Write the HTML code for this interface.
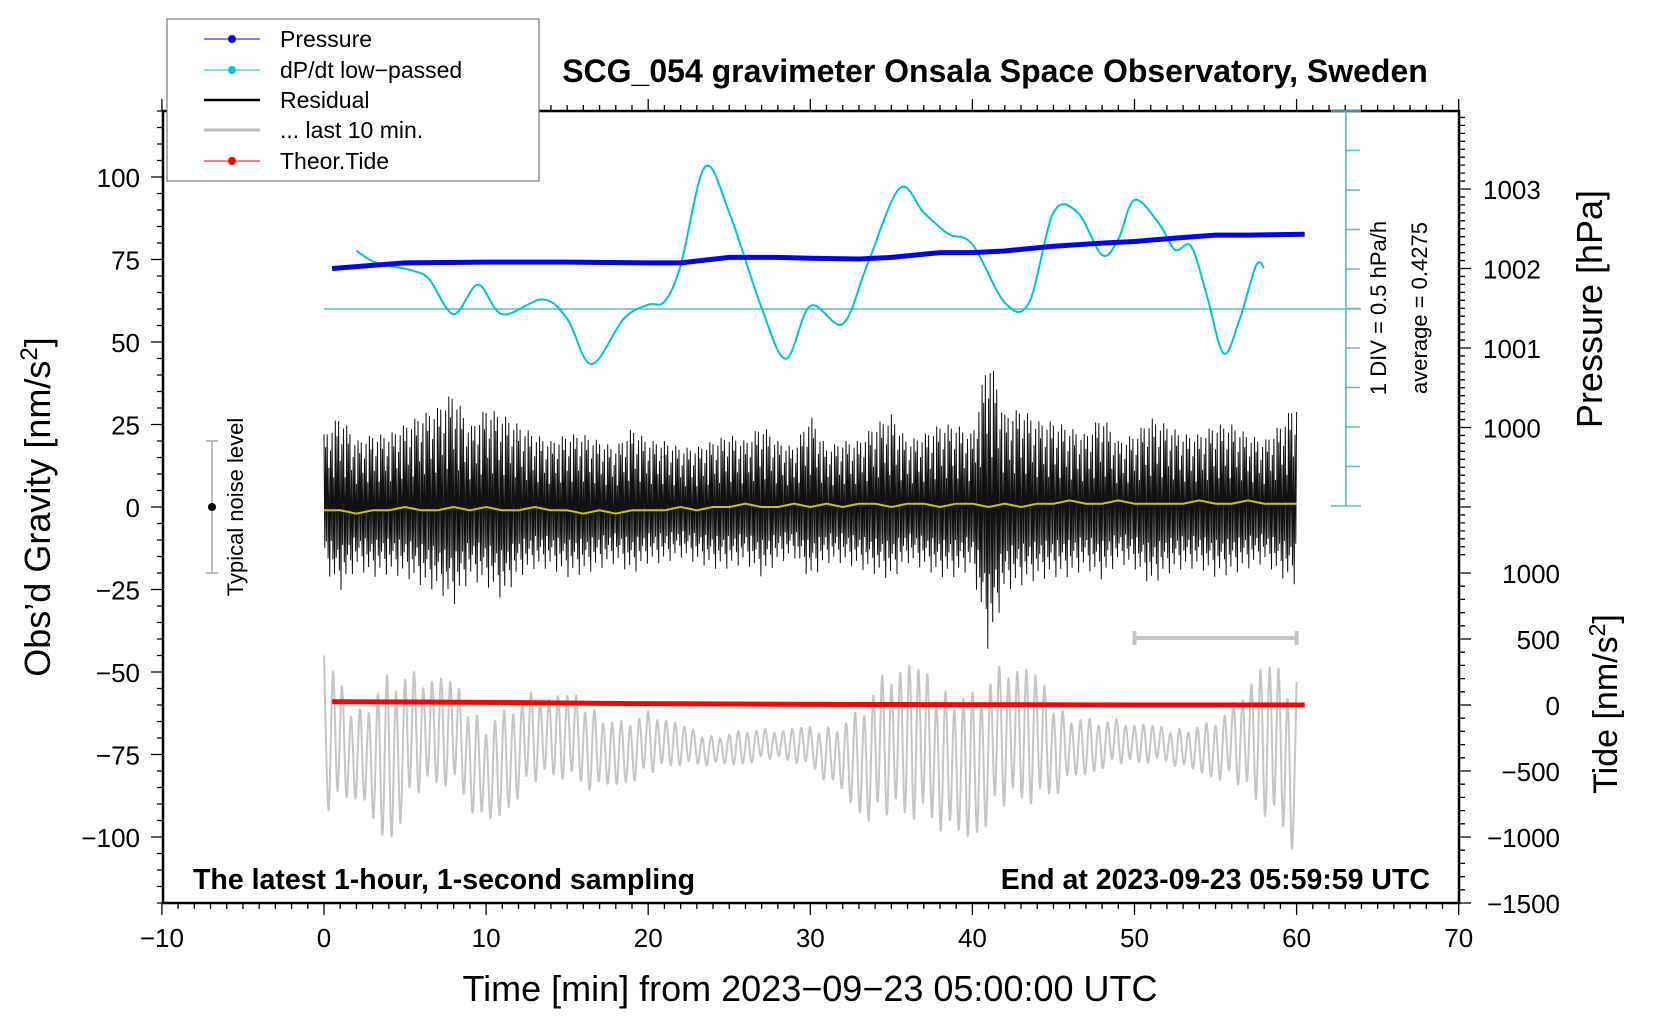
<!DOCTYPE html>
<html><head><meta charset="utf-8"><style>
html,body{margin:0;padding:0;background:#fff}
svg{display:block;font-family:"Liberation Sans",Arial,sans-serif}
</style></head><body>
<svg id="chart" width="1660" height="1020" viewBox="0 0 1660 1020" xmlns="http://www.w3.org/2000/svg">
<rect x="0" y="0" width="1660" height="1020" fill="#fff"/>
<g id="axes"></g>
<g id="series"></g>
<text x="995" y="82" text-anchor="middle" font-size="32" font-weight="bold">SCG_054 gravimeter Onsala Space Observatory, Sweden</text>
<text x="193" y="889" font-size="28.5" font-weight="bold">The latest 1-hour, 1-second sampling</text>
<text x="1430" y="889" text-anchor="end" font-size="28.5" font-weight="bold">End at 2023-09-23 05:59:59 UTC</text>
<text x="810" y="1001" text-anchor="middle" font-size="36">Time [min] from 2023−09−23 05:00:00 UTC</text>
<text transform="translate(50,507) rotate(-90)" text-anchor="middle" font-size="36">Obs’d Gravity [nm/s<tspan font-size="24" dy="-13">2</tspan><tspan dy="13">]</tspan></text>
<text transform="translate(1602,309) rotate(-90)" text-anchor="middle" font-size="36">Pressure [hPa]</text>
<text transform="translate(1617,704) rotate(-90)" text-anchor="middle" font-size="34">Tide [nm/s<tspan font-size="23" dy="-12">2</tspan><tspan dy="12">]</tspan></text>
<text transform="translate(1386,308) rotate(-90)" text-anchor="middle" font-size="22">1 DIV = 0.5 hPa/h</text>
<text transform="translate(1427,308) rotate(-90)" text-anchor="middle" font-size="22">average = 0.4275</text>
<g>
<line x1="212" y1="441" x2="212" y2="573" stroke="#bbb" stroke-width="2"/>
<line x1="206" y1="441" x2="218" y2="441" stroke="#bbb" stroke-width="2"/>
<line x1="206" y1="573" x2="218" y2="573" stroke="#bbb" stroke-width="2"/>
<circle cx="212" cy="507" r="4" fill="#000"/>
<text transform="translate(243,507) rotate(-90)" text-anchor="middle" font-size="22">Typical noise level</text>
</g>
<g>
<rect x="167" y="19" width="372" height="162" fill="#fff" stroke="#777" stroke-width="1.2"/>
<g><line x1="204" y1="39" x2="260" y2="39" stroke="#00f" stroke-width="1"/><circle cx="232" cy="39" r="4" fill="#00f"/><text x="280" y="47" font-size="23">Pressure</text></g>
<g><line x1="204" y1="70" x2="260" y2="70" stroke="#0cc" stroke-width="1"/><circle cx="232" cy="70" r="4" fill="#0cc"/><text x="280" y="78" font-size="23">dP/dt low−passed</text></g>
<g><line x1="204" y1="100" x2="260" y2="100" stroke="#000" stroke-width="2.5"/><text x="280" y="108" font-size="23">Residual</text></g>
<g><line x1="204" y1="130" x2="260" y2="130" stroke="#bbb" stroke-width="3"/><text x="280" y="138" font-size="23">... last 10 min.</text></g>
<g><line x1="204" y1="161" x2="260" y2="161" stroke="#f00" stroke-width="1"/><circle cx="232" cy="161" r="4" fill="#f00"/><text x="280" y="169" font-size="23">Theor.Tide</text></g>
</g>
</svg>
<script>
// ---- data ----
const pressMin = [0.5,5,10,15,20,22,25,28,30,33,35,38,40,42,45,48,50,53,55,57,60.5];
const pressVal = [1002.00,1002.07,1002.08,1002.08,1002.07,1002.07,1002.14,1002.14,1002.13,1002.12,1002.14,1002.20,1002.20,1002.22,1002.28,1002.32,1002.34,1002.39,1002.42,1002.42,1002.43];
const dpdtMin = [2,3,4,5.5,6.5,8,9.5,11,13.5,15,16.5,18.5,20,21,22,23.5,25,27,28.5,30,32,33.5,35.5,37,38.5,40,42,43.5,45,46.5,48,49,50,51.5,52.5,53.5,54.5,55.5,56.5,57.5,58];
const dpdtVal = [0.737,0.603,0.55,0.483,0.375,-0.067,0.308,-0.067,0.121,-0.121,-0.697,-0.121,0.054,0.094,0.55,1.796,1.22,0.013,-0.63,0.04,-0.188,0.55,1.528,1.22,0.952,0.818,0.08,0.08,1.22,1.22,0.684,0.885,1.381,1.086,0.751,0.791,0.147,-0.563,-0.121,0.55,0.523];
const residHi = [22,28,20,22,22,25,28,30,35,24,30,28,25,22,20,22,22,20,18,24,20,20,18,18,20,22,20,25,20,18,28,18,20,20,25,28,20,22,25,25,22,47,28,30,26,26,24,22,28,20,22,27,25,22,22,25,25,22,20,25,32];
const residLo = [-22,-30,-22,-25,-24,-25,-28,-30,-35,-26,-28,-33,-25,-22,-22,-25,-24,-22,-20,-24,-20,-20,-18,-20,-22,-22,-20,-25,-20,-18,-26,-20,-20,-22,-24,-26,-20,-22,-25,-25,-22,-52,-30,-28,-26,-25,-25,-22,-26,-20,-22,-28,-24,-22,-22,-25,-24,-22,-20,-25,-28];
const smoothVal = [-1,-1,-2,-1,-1,0,-1,-1,0,-1,0,-1,-1,0,-1,-1,-2,-1,-2,-1,-1,-1,0,-1,0,0,1,0,0,1,0,1,0,1,1,0,1,1,0,1,1,0,1,0,1,1,2,1,1,2,1,1,1,1,2,1,1,2,1,1,1];
const grayMin = [0,2,4,6,8,10,12,14,16,18,20,22,24,26,28,30,32,34,36,38,40,42,44,46,48,50,52,54,56,58,60];
const grayHi = [-45,-58,-43,-52,-52,-60,-55,-58,-55,-62,-62,-66,-68,-66,-68,-66,-62,-52,-48,-48,-50,-48,-50,-60,-63,-66,-66,-64,-60,-48,-44];
const grayLo = [-100,-88,-102,-92,-88,-96,-90,-86,-86,-84,-84,-80,-78,-78,-78,-80,-86,-100,-102,-98,-100,-98,-95,-82,-80,-80,-78,-80,-86,-100,-104];
const tideMin = [0.5,10,20,30,40,50,60.5];
const tideVal = [25,20,10,5,2,0,0];
const xTicks = [-10,0,10,20,30,40,50,60,70];
const gravTicks = [-100,-75,-50,-25,0,25,50,75,100];
const pressTicks = [1000,1001,1002,1003];
const tideTicks = [-1500,-1000,-500,0,500,1000];

// ---- scales ----
const NS='http://www.w3.org/2000/svg';
const L=163,R=1459,T=111,B=903;
const X=m=>324+(m)*16.21;
const YG=v=>507-v*3.3;
const YP=p=>189-(p-1003)*79.5;
const YT=t=>705-t*0.132;
const YD=v=>309-v*79;
const axes=document.getElementById('axes'), ser=document.getElementById('series');
function mk(tag,attrs,parent){const e=document.createElementNS(NS,tag);for(const k in attrs)e.setAttribute(k,attrs[k]);(parent||axes).appendChild(e);return e;}
function interp(xs,ys,x){if(x<=xs[0])return ys[0];for(let i=1;i<xs.length;i++){if(x<=xs[i]){const f=(x-xs[i-1])/(xs[i]-xs[i-1]);return ys[i-1]+f*(ys[i]-ys[i-1]);}}return ys[ys.length-1];}
function smooth(pts){let d='M'+pts[0][0]+','+pts[0][1];for(let i=0;i<pts.length-1;i++){const p0=pts[i-1]||pts[i],p1=pts[i],p2=pts[i+1],p3=pts[i+2]||p2;const c1=[p1[0]+(p2[0]-p0[0])/6,p1[1]+(p2[1]-p0[1])/6],c2=[p2[0]-(p3[0]-p1[0])/6,p2[1]-(p3[1]-p1[1])/6];d+=`C${c1[0].toFixed(1)},${c1[1].toFixed(1)} ${c2[0].toFixed(1)},${c2[1].toFixed(1)} ${p2[0].toFixed(1)},${p2[1].toFixed(1)}`;}return d;}

// frame
let tk='';
for(let m=-10;m<=70;m++){const x=X(m);const major=m%10===0;tk+=`M${x},${B}v${major?12:6}M${x},${T}v${major?-12:-6}`;}
for(let v=-120;v<=120;v+=5){const y=YG(v);tk+=`M${L},${y}h${v%25===0?-12:-6}`;}
for(let p=998.4;p<=1003.95;p+=0.1){const y=YP(p);const major=Math.abs(p-Math.round(p))<0.01;tk+=`M${R},${y}h${major?12:6}`;}
for(let t=-1500;t<=1000;t+=100){const y=YT(t);tk+=`M${R},${y}h${t%500===0?12:6}`;}
const tickPath=mk('path',{d:tk,stroke:'#000','stroke-width':1.3,fill:'none'});


const frame=mk('rect',{x:L,y:T,width:R-L,height:B-T,fill:'none',stroke:'#000','stroke-width':2.5});


xTicks.forEach(m=>{const t=mk('text',{x:X(m),y:947,'text-anchor':'middle','font-size':26});t.textContent=String(m).replace('-','−');

});
gravTicks.forEach(v=>{const t=mk('text',{x:140,y:YG(v)+10,'text-anchor':'end','font-size':26});t.textContent=String(v).replace('-','−');

});
pressTicks.forEach(v=>{const t=mk('text',{x:1483,y:YP(v)+10,'font-size':26});t.textContent=v;

});
tideTicks.forEach(v=>{const t=mk('text',{x:1560,y:YT(v)+10,'text-anchor':'end','font-size':26});t.textContent=String(v).replace('-','−');

});

// dP/dt scale bar
let sb=`M1346,${T}V506M1331,${T}h30M1331,506h30M${X(0)},309H1361`;
for(let i=1;i<10;i++){const y=T+i*39.5;sb+=`M1346,${y}h14`;}
const sbar=mk('path',{d:sb,stroke:'#5bbfbf','stroke-width':1.6,fill:'none'},ser);



// gray last 10 min
const pat=[1,0.75,0.95,0.6,0.9,0.8,0.55,1,0.7,0.85,0.5,0.95,0.65];
let k=0;const gpts=[];
for(let m=0;m<=60.001;m+=1/3.6){const hi=interp(grayMin,grayHi,m),lo=interp(grayMin,grayLo,m);const c=(hi+lo)/2,a=(hi-lo)/2;const s=(k%2===0?1:-1)*pat[k%pat.length];gpts.push([+X(m).toFixed(1),+YG(c+a*s).toFixed(1)]);k++;}
const gp=mk('path',{d:smooth(gpts),stroke:'#c4c4c4','stroke-width':2,fill:'none'},ser);


const gbar=mk('path',{d:`M${X(50)},638H${X(60)}M${X(50)},631v14M${X(60)},631v14`,stroke:'#c4c4c4','stroke-width':4,fill:'none'},ser);



// residual
let rd='';k=0;const pat2=[1,0.55,0.8,0.45,0.95,0.65,0.5,0.85,0.7,0.4,0.9,0.6,0.35,0.75];
const rIdx=residHi.map((_,i)=>i);
for(let m=0;m<=60;m+=1/20){const hi=interp(rIdx,residHi,m),lo=interp(rIdx,residLo,m);const v=(k%2===0?hi:lo)*pat2[k%pat2.length];rd+=(k?'L':'M')+X(m).toFixed(1)+','+YG(v).toFixed(1);k++;}
const rp=mk('path',{d:rd,stroke:'#111','stroke-width':1,fill:'none'},ser);


let sd='';const sIdx=smoothVal.map((_,i)=>i);
for(let m=0;m<=60;m+=0.25){sd+=(m?'L':'M')+X(m).toFixed(1)+','+YG(interp(sIdx,smoothVal,m)).toFixed(1);}
const sp=mk('path',{d:sd,stroke:'#c8c800','stroke-width':2,fill:'none'},ser);



// tide
const td=tideMin.map((m,i)=>(i?'L':'M')+X(m)+','+YT(tideVal[i])).join('');
const tp=mk('path',{d:td,stroke:'#f00','stroke-width':5,fill:'none'},ser);



// dP/dt
const dp=mk('path',{d:smooth(dpdtMin.map((m,i)=>[X(m),YD(dpdtVal[i])])),stroke:'#00c8c8','stroke-width':2,fill:'none'},ser);



// pressure
const pd=pressMin.map((m,i)=>(i?'L':'M')+X(m).toFixed(1)+','+YP(pressVal[i]).toFixed(1)).join('');
const pp=mk('path',{d:pd,stroke:'#0000ff','stroke-width':5,fill:'none','stroke-linejoin':'round'},ser);


</script>
</body></html>
